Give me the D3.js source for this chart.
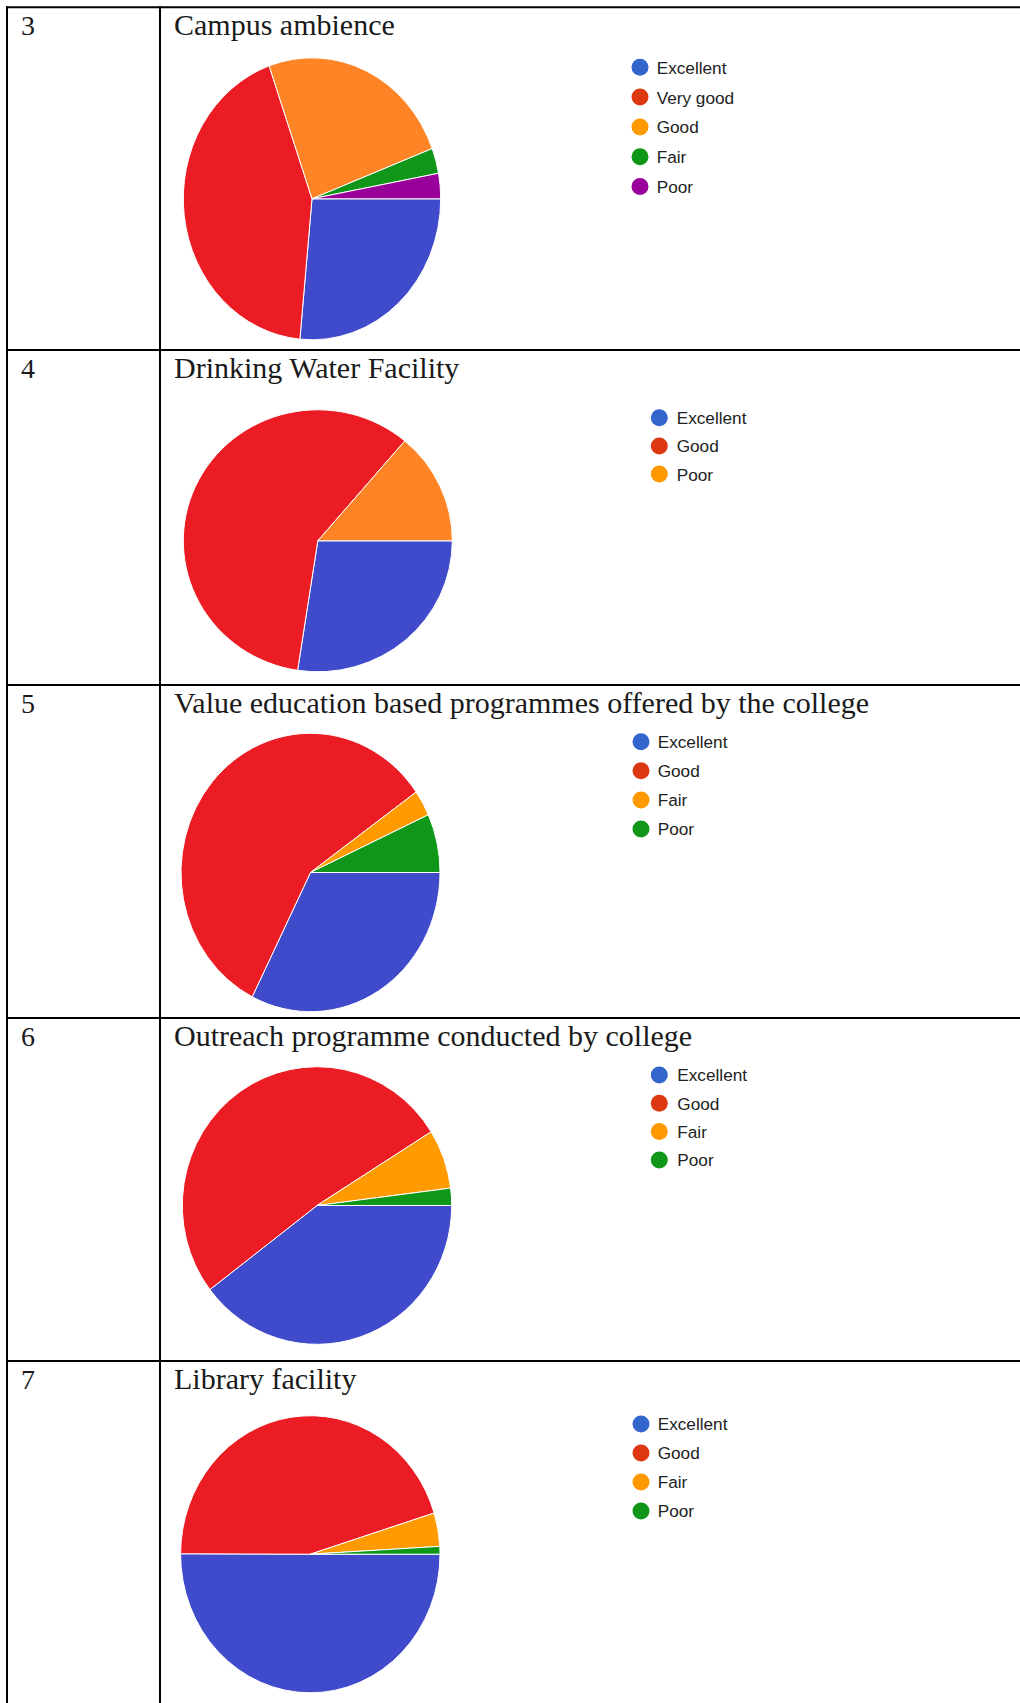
<!DOCTYPE html>
<html>
<head>
<meta charset="utf-8">
<script src="https://cdn.jsdelivr.net/npm/d3@7/dist/d3.min.js"></script>
<style>
  html, body { margin: 0; padding: 0; background: #fff; }
  svg { display: block; }
</style>
</head>
<body>
<svg id="chart" width="1020" height="1703"></svg>
<script>
// ---------------- DATA ----------------
const rowNumbers = ["3", "4", "5", "6", "7"];
const titles = [
  "Campus ambience",
  "Drinking Water Facility",
  "Value education based programmes offered by the college",
  "Outreach programme conducted by college",
  "Library facility"
];
const labels1 = ["Excellent", "Very good", "Good", "Fair", "Poor"];
const values1 = [26.5, 43.1, 24.6, 2.9, 2.9];
const labels2 = ["Excellent", "Good", "Poor"];
const values2 = [27.4, 58.8, 13.8];
const labels3 = ["Excellent", "Good", "Fair", "Poor"];
const values3 = [32.4, 57.7, 3.0, 6.8];
const labels4 = ["Excellent", "Good", "Fair", "Poor"];
const values4 = [39.6, 51.4, 6.9, 2.0];
const labels5 = ["Excellent", "Good", "Fair", "Poor"];
const values5 = [50.0, 45.1, 3.9, 0.9];

// ---------------- STYLES / LAYOUT ----------------
const sliceColors1 = ["#404BCC", "#EC1C24", "#FF8426", "#109618", "#990099"];
const sliceColors2 = ["#404BCC", "#EC1C24", "#FF8426"];
const sliceColors345 = ["#404BCC", "#EC1C24", "#FF9A00", "#109618"];
const legendColors1 = ["#3366CC", "#DC3912", "#FF9900", "#109618", "#990099"];
const legendColors2 = ["#3366CC", "#DC3912", "#FF9900"];
const legendColors345 = ["#3366CC", "#DC3912", "#FF9900", "#109618"];

const rowTops = [7.3, 350, 685, 1018, 1361];

const charts = [
  { labels: labels1, values: values1, slice: sliceColors1, legend: legendColors1,
    cx: 312, cy: 198.8, rx: 128.7, ry: 141, lx: 640, ly: 67.3, ldy: 29.8, tx: 656.7 },
  { labels: labels2, values: values2, slice: sliceColors2, legend: legendColors2,
    cx: 317.8, cy: 540.8, rx: 134.5, ry: 131, lx: 659.3, ly: 417.7, ldy: 28.2, tx: 676.7 },
  { labels: labels3, values: values3, slice: sliceColors345, legend: legendColors345,
    cx: 310.5, cy: 872.5, rx: 129.5, ry: 139.2, lx: 641, ly: 741.7, ldy: 29.1, tx: 657.7 },
  { labels: labels4, values: values4, slice: sliceColors345, legend: legendColors345,
    cx: 317, cy: 1205.5, rx: 134.7, ry: 138.8, lx: 659.3, ly: 1075, ldy: 28.3, tx: 677.3 },
  { labels: labels5, values: values5, slice: sliceColors345, legend: legendColors345,
    cx: 310.3, cy: 1554.2, rx: 129.7, ry: 138.5, lx: 641, ly: 1424, ldy: 29.0, tx: 657.7 }
];

const svg = d3.select("#chart");
const W = 1020, H = 1703;

// ---------------- TABLE GRID ----------------
const grid = svg.append("g").attr("stroke", "#000").attr("stroke-width", 2);
rowTops.forEach(y => {
  grid.append("line").attr("x1", 6).attr("x2", W).attr("y1", y).attr("y2", y);
});
grid.append("line").attr("x1", 7).attr("x2", 7).attr("y1", rowTops[0] - 1).attr("y2", H);
grid.append("line").attr("x1", 160).attr("x2", 160).attr("y1", rowTops[0] - 1).attr("y2", H);

// ---------------- ROW TEXT ----------------
rowTops.forEach((y, i) => {
  svg.append("text")
    .attr("x", 21).attr("y", y + 27.5)
    .attr("font-family", "'Liberation Serif', 'Times New Roman', serif")
    .attr("font-size", 28)
    .attr("fill", "#1a1a1a")
    .text(rowNumbers[i]);
  svg.append("text")
    .attr("x", 174).attr("y", y + 27.5)
    .attr("font-family", "'Liberation Serif', 'Times New Roman', serif")
    .attr("font-size", 30)
    .attr("fill", "#1a1a1a")
    .text(titles[i]);
});

// ---------------- PIES ----------------
const pie = d3.pie().sort(null).startAngle(Math.PI / 2).endAngle(Math.PI / 2 + 2 * Math.PI);

charts.forEach(c => {
  const arc = d3.arc().innerRadius(0).outerRadius(c.ry);
  const color = d3.scaleOrdinal().domain(c.labels).range(c.slice);
  const lcolor = d3.scaleOrdinal().domain(c.labels).range(c.legend);
  const data = c.labels.map((l, i) => ({ label: l, value: c.values[i] }));

  const g = svg.append("g")
    .attr("transform", `translate(${c.cx},${c.cy}) scale(${c.rx / c.ry},1)`);
  g.selectAll("path")
    .data(pie.value(d => d.value)(data))
    .join("path")
    .attr("d", arc)
    .attr("fill", d => color(d.data.label))
    .attr("stroke", "#fff")
    .attr("stroke-width", 1)
    .attr("vector-effect", "non-scaling-stroke");

  const y = d3.scalePoint().domain(c.labels).range([c.ly, c.ly + c.ldy * (c.labels.length - 1)]);
  const lg = svg.append("g");
  lg.selectAll("circle")
    .data(c.labels)
    .join("circle")
    .attr("cx", c.lx)
    .attr("cy", d => y(d))
    .attr("r", 8.5)
    .attr("fill", d => lcolor(d));
  lg.selectAll("text")
    .data(c.labels)
    .join("text")
    .attr("x", c.tx)
    .attr("y", d => y(d) + 6.4)
    .attr("font-family", "'Liberation Sans', Arial, sans-serif")
    .attr("font-size", 17.2)
    .attr("fill", "#222")
    .text(d => d);
});
</script>
</body>
</html>
